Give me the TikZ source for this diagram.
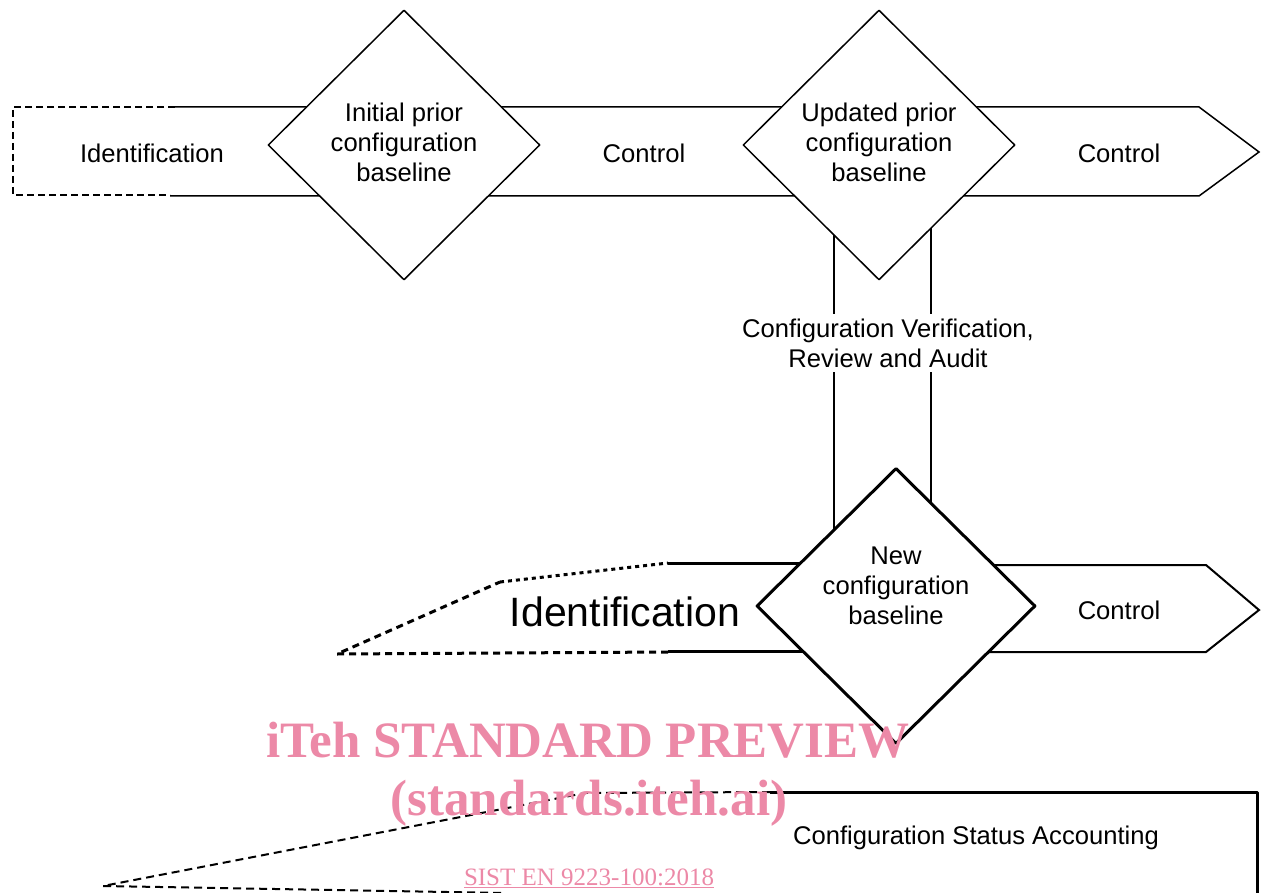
\documentclass[tikz,border=0pt]{standalone}
\usepackage{fontspec}
\setmainfont{Liberation Sans}
\newfontfamily\wmfont{Liberation Serif}
\usetikzlibrary{shapes.geometric,backgrounds}
\definecolor{wmpink}{RGB}{236,137,167}

\begin{document}
\begin{tikzpicture}[x=1pt,y=-1pt,line join=round,
  every node/.style={font=\fontsize{25.6}{30}\selectfont,inner sep=2pt},
  cfgdiamond/.style={diamond,draw,fill=white,line width=1.5pt,inner sep=0pt,
    minimum width=272pt,minimum height=270pt,align=center},
  band/.style={line width=1.5pt},
  heavyband/.style={line width=3pt},
  wmtext/.style={text=wmpink,font=\wmfont\bfseries\fontsize{51}{60}\selectfont}]
  \useasboundingbox (0,0) rectangle (1263,893);

  \node[cfgdiamond] (d1) at (404,145) {};
  \node[cfgdiamond] (d2) at (879,145) {};
  \node[cfgdiamond,line width=3pt,minimum width=279pt,minimum height=276pt] (d3) at (896,606) {};
  \node[align=center] (d1txt) at (404,142) {Initial prior\\configuration\\baseline};
  \node[align=center] (d2txt) at (879,142) {Updated prior\\configuration\\baseline};
  \node[align=center] (d3txt) at (896,586) {New\\configuration\\baseline};

  \node (id1)  at (152,153) {Identification};
  \node (ctl1) at (644,153) {Control};
  \node (ctl2) at (1119,153) {Control};
  \node[fill=white,align=center,inner sep=5pt] (cvra) at (888,343)
    {Configuration Verification,\\Review and Audit};
  \node[font=\fontsize{41}{48}\selectfont] (id2) at (625,612) {Identification};
  \node (ctl3) at (1119,610) {Control};
  \node (csa)  at (976,838) {Configuration Status Accounting};

  \begin{scope}[on background layer]
    \draw[band,dash pattern=on 7pt off 4pt] (175,107) -| (13,195) -- (170,195);
    \draw[band] (172,107) -- (d1 |- 0,107) -- (d2 |- 0,107) -- (1199,107)
      -- (1259,152) -- (1199,196) -- (d2 |- 0,196) -- (d1 |- 0,196) -- (170,196);
    \draw[band] (d2 -| 834,0) -- (d3 -| 834,0);
    \draw[band] (d2 -| 931,0) -- (d3 -| 931,0);
    \draw[heavyband] (668,563) -- (d3 |- 0,563);
    \draw[heavyband] (668,651) -- (d3 |- 0,651);
    \draw[heavyband,dash pattern=on 4pt off 4pt] (500,582) -- (668,563);
    \draw[heavyband,dash pattern=on 7pt off 5pt] (668,652) -- (337,654) -- (500,582);
    \draw[line width=2pt] (d3 |- 0,565) -- (1206,565) -- (1259,610) -- (1206,652) -- (d3 |- 0,652);
  \end{scope}

  \draw[heavyband] (770,792) -- (1257,792) -- (1257,893);
  \draw[line width=2pt,dash pattern=on 8pt off 5pt] (770,792) -- (585,793) -- (103,886) -- (505,893);

  \node[wmtext] (wm1) at (588,740) {iTeh STANDARD PREVIEW};
  \node[wmtext] (wm2) at (589,803) {(standards.iteh.ai)};
  \node[text=wmpink,font=\wmfont\fontsize{25}{30}\selectfont] (wm3) at (589,878)
    {\underline{SIST EN 9223-100:2018}};
\end{tikzpicture}
\end{document}
